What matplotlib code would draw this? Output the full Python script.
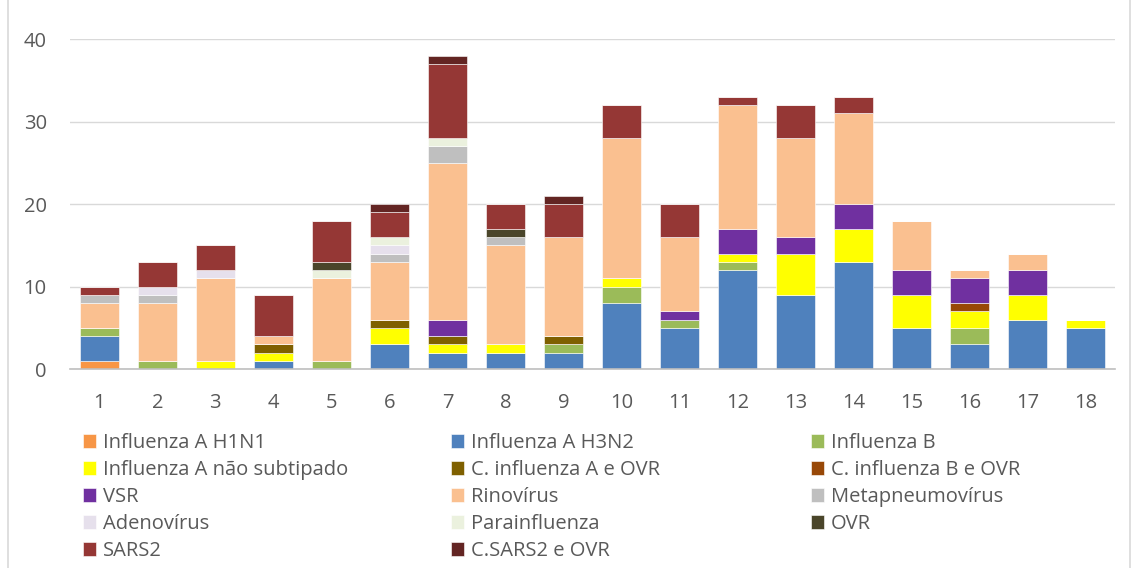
import matplotlib
matplotlib.use('Agg')

import matplotlib.pyplot as plt
import numpy as np
from matplotlib.lines import Line2D

# categorias (semanas)
weeks = list(range(1, 19))

# valores por vírus, na ordem de empilhamento
h1n1 = [1, 0, 0, 0, 0, 0, 0, 0, 0, 0, 0, 0, 0, 0, 0, 0, 0, 0]
h3n2 = [3, 0, 0, 1, 0, 3, 2, 2, 2, 8, 5, 12, 9, 13, 5, 3, 6, 5]
flu_b = [1, 1, 0, 0, 1, 0, 0, 0, 1, 2, 1, 1, 0, 0, 0, 2, 0, 0]
flu_a_ns = [0, 0, 1, 1, 0, 2, 1, 1, 0, 1, 0, 1, 5, 4, 4, 2, 3, 1]
c_flu_a = [0, 0, 0, 1, 0, 1, 1, 0, 1, 0, 0, 0, 0, 0, 0, 0, 0, 0]
c_flu_b = [0, 0, 0, 0, 0, 0, 0, 0, 0, 0, 0, 0, 0, 0, 0, 1, 0, 0]
vsr = [0, 0, 0, 0, 0, 0, 2, 0, 0, 0, 1, 3, 2, 3, 3, 3, 3, 0]
rino = [3, 7, 10, 1, 10, 7, 19, 12, 12, 17, 9, 15, 12, 11, 6, 1, 2, 0]
metap = [1, 1, 0, 0, 0, 1, 2, 1, 0, 0, 0, 0, 0, 0, 0, 0, 0, 0]
adeno = [0, 1, 1, 0, 0, 1, 0, 0, 0, 0, 0, 0, 0, 0, 0, 0, 0, 0]
parainf = [0, 0, 0, 0, 1, 1, 1, 0, 0, 0, 0, 0, 0, 0, 0, 0, 0, 0]
ovr = [0, 0, 0, 0, 1, 0, 0, 1, 0, 0, 0, 0, 0, 0, 0, 0, 0, 0]
sars2 = [1, 3, 3, 5, 5, 3, 9, 3, 4, 4, 4, 1, 4, 2, 0, 0, 0, 0]
c_sars2 = [0, 0, 0, 0, 0, 1, 1, 0, 1, 0, 0, 0, 0, 0, 0, 0, 0, 0]

series = [
    ('Influenza A H1N1', h1n1, '#F79646'),
    ('Influenza A H3N2', h3n2, '#4F81BD'),
    ('Influenza B', flu_b, '#9BBB59'),
    ('Influenza A não subtipado', flu_a_ns, '#FFFF00'),
    ('C. influenza A e OVR', c_flu_a, '#7F6000'),
    ('C. influenza B e OVR', c_flu_b, '#984807'),
    ('VSR', vsr, '#7030A0'),
    ('Rinovírus', rino, '#FAC090'),
    ('Metapneumovírus', metap, '#BFBFBF'),
    ('Adenovírus', adeno, '#E6E0EC'),
    ('Parainfluenza', parainf, '#EBF1DE'),
    ('OVR', ovr, '#4A452A'),
    ('SARS2', sars2, '#953735'),
    ('C.SARS2 e OVR', c_sars2, '#632523'),
]

plt.rcParams['font.family'] = ['Open Sans', 'DejaVu Sans']
text_color = '#595959'

fig = plt.figure(figsize=(11.34, 5.68), dpi=100)
ax = fig.add_axes([0.062, 0.350, 0.921, 0.581])

x = np.array(weeks)
bottom = np.zeros(len(weeks))
handles = []
for name, vals, color in series:
    b = ax.bar(x, vals, bottom=bottom, width=0.67, color=color,
               edgecolor='white', linewidth=0.4, label=name)
    handles.append(b)
    bottom += np.array(vals)

ax.set_xlim(0.5, 18.5)
ax.set_ylim(0, 40)
ax.set_yticks([0, 10, 20, 30, 40])
ax.set_xticks(x)
ax.yaxis.grid(True, color='#D9D9D9', linewidth=1)
ax.set_axisbelow(True)
for s in ['top', 'right', 'left']:
    ax.spines[s].set_visible(False)
ax.spines['bottom'].set_color('#BFBFBF')
ax.spines['bottom'].set_linewidth(1.2)
ax.tick_params(axis='y', length=0, labelsize=14.5, colors=text_color, pad=17)
ax.tick_params(axis='x', length=0, labelsize=14.5, colors=text_color, pad=17)

# legenda: 3 colunas preenchidas por linhas, cada coluna é uma legenda
col_x = [83, 451, 811]
for c in range(3):
    idx = list(range(c, len(series), 3))
    leg = fig.legend([handles[i] for i in idx], [series[i][0] for i in idx],
                     loc='upper left', bbox_to_anchor=(col_x[c] / 1134, 1 - 433 / 568),
                     frameon=False, fontsize=14.5, handlelength=0.65,
                     handleheight=0.65, handletextpad=0.35, labelspacing=0.35,
                     borderpad=0, borderaxespad=0)
    for t in leg.get_texts():
        t.set_color(text_color)

# contorno da área do gráfico
fig.add_artist(Line2D([8 / 1134, 8 / 1134], [0, 1], transform=fig.transFigure,
                      color='#D9D9D9', linewidth=1.2))
fig.add_artist(Line2D([1130 / 1134, 1130 / 1134], [0, 1], transform=fig.transFigure,
                      color='#D9D9D9', linewidth=1.2))

fig.savefig('out.png', dpi=100)
